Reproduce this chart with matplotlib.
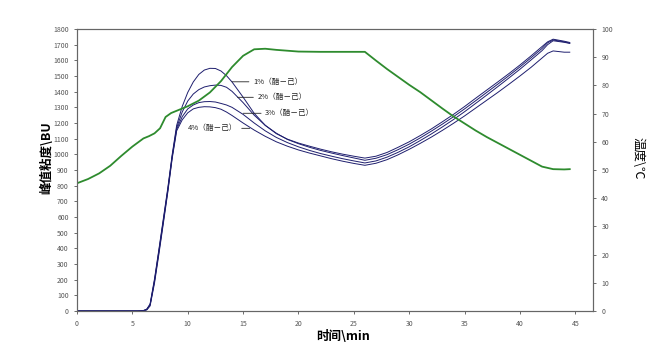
import matplotlib
matplotlib.use("Agg")
import matplotlib.pyplot as plt

plt.rcParams['font.family'] = ['Noto Sans CJK SC', 'DejaVu Sans']

# time axis (min) for viscosity curves
time = [0, 1, 2, 3, 4, 5, 5.5, 6, 6.3, 6.6,
        7, 7.4, 7.8, 8.2, 8.6,
        9, 9.5, 10, 10.5, 11, 11.5, 12, 12.5, 13, 13.5, 14,
        15, 16, 17, 18, 19, 20, 21, 22, 23, 24, 25, 26,
        27, 28, 29, 30, 31, 32, 33, 34, 35, 36, 37, 38, 39, 40, 41, 42,
        42.5, 43, 44, 44.5]

visc_1 = [0, 0, 0, 0, 0, 0, 0, 3, 12, 45,
          205, 395, 590, 785, 1000,
          1185, 1305, 1395, 1462, 1510, 1538, 1549, 1548, 1532, 1502, 1462,
          1365, 1262, 1185, 1132, 1097, 1072, 1052, 1033, 1016, 1001, 988, 976,
          988, 1012, 1045, 1080, 1120, 1162, 1208, 1255, 1305, 1358, 1410, 1462, 1515, 1570, 1628, 1688,
          1718, 1735, 1722, 1714]
visc_2 = [0, 0, 0, 0, 0, 0, 0, 2, 10, 40,
          195, 385, 580, 775, 990,
          1170, 1270, 1340, 1385, 1413, 1430, 1438, 1442, 1440, 1428, 1402,
          1330, 1250, 1185, 1135, 1095, 1068, 1045, 1025, 1008, 992, 977, 962,
          975, 998, 1030, 1065, 1105, 1148, 1193, 1240, 1290, 1342, 1395, 1448, 1502, 1558, 1616, 1676,
          1712, 1730, 1718, 1710]
visc_3 = [0, 0, 0, 0, 0, 0, 0, 2, 9, 38,
          190, 378, 572, 768, 985,
          1160, 1240, 1290, 1315, 1330, 1336, 1337, 1334, 1325, 1315, 1300,
          1255, 1200, 1150, 1108, 1075, 1048, 1025, 1005, 988, 972, 958, 945,
          958, 982, 1013, 1048, 1088, 1130, 1175, 1222, 1272, 1325, 1378, 1432, 1487, 1543, 1602, 1662,
          1700, 1725, 1715, 1708]
visc_4 = [0, 0, 0, 0, 0, 0, 0, 1, 7, 32,
          178, 365, 560, 758, 975,
          1150, 1220, 1265, 1290, 1300, 1304, 1303, 1298, 1288, 1270, 1248,
          1200, 1155, 1115, 1080, 1052, 1028, 1008, 990, 972, 956, 942, 930,
          943, 966, 997, 1032, 1070, 1110, 1153, 1198, 1245, 1295, 1345, 1395, 1447, 1500, 1555, 1615,
          1645, 1660, 1652, 1652]

# temperature program
temp_time = [0, 1, 2, 3, 4, 5, 6, 6.5, 7, 7.5, 8, 8.5, 9, 10, 11, 12, 13, 14, 15, 16,
             17, 18, 20, 22, 24, 26, 27, 28, 29, 30, 31, 32, 33, 34, 35, 36, 37, 38,
             39, 40, 41, 42, 43, 44, 44.5]
temp = [45.3, 46.8, 48.8, 51.5, 55.0, 58.3, 61.2, 62.0, 63.0, 64.8, 68.8, 70.2, 71.0, 72.6,
        74.6, 77.5, 81.5, 86.5, 90.5, 92.8, 93.0, 92.6, 92.0, 91.9, 91.9, 91.9, 88.8, 85.8,
        83.0, 80.2, 77.6, 74.7, 71.8, 69.0, 66.5, 64.0, 61.7, 59.6, 57.5, 55.4, 53.3, 51.2,
        50.3, 50.2, 50.3]

labels = ['1%（醋－己）', '2%（醋－己）', '3%（醋－己）', '4%（醋－己）']
# (point on curve, text x) for leader lines
label_pts = [(14.0, 1463, 15.9), (14.5, 1364, 16.3), (15.0, 1262, 17.0), (15.6, 1166, 14.5)]

fig = plt.figure(figsize=(6.51, 3.53), dpi=100)
ax = fig.add_axes([77 / 651, 42 / 353, 516 / 651, 282 / 353])

line_col = '#1e1e6e'
for v in [visc_1, visc_2, visc_3, visc_4]:
    ax.plot(time, v, color=line_col, lw=0.7)

for lab, (xp, yp, xt) in zip(labels, label_pts):
    ha = 'right' if xt < xp else 'left'
    ax.annotate(lab, xy=(xp, yp), xytext=(xt, yp), ha=ha, va='center',
                fontsize=5.5, color='#222222',
                arrowprops=dict(arrowstyle='-', lw=0.6, color='#222222',
                                shrinkA=1, shrinkB=0))

ax.set_xlim(0, 46.6)
ax.set_ylim(0, 1800)
ax.set_xticks(range(0, 50, 5))
ax.set_yticks(range(0, 1900, 100))

ax2 = ax.twinx()
ax2.plot(temp_time, temp, color='#2e8b2e', lw=1.3)
ax2.set_ylim(0, 100)
ax2.set_yticks(range(0, 110, 10))

for a in (ax, ax2):
    for s in a.spines.values():
        s.set_color('#666666')
        s.set_linewidth(0.8)
    a.tick_params(labelsize=5, colors='#555555', length=2.5, width=0.6)
ax.tick_params(axis='x', pad=4)

fig.text(47 / 651, 1 - 158 / 353, '峰值粘度\\BU', rotation=90, ha='center', va='center',
         fontsize=9, fontweight='bold')
fig.text(343 / 651, 1 - 336 / 353, '时间\\min', ha='center', va='center',
         fontsize=9, fontweight='bold')
fig.text(638 / 651, 1 - 158 / 353, '温度\\℃', rotation=270, ha='center', va='center',
         fontsize=9)

fig.savefig('out.png', dpi=100)
